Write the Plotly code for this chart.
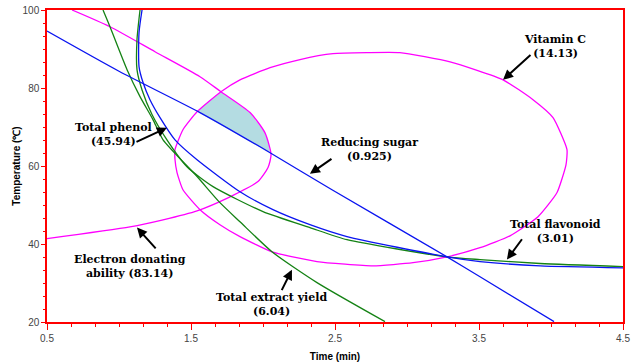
import plotly.graph_objects as go

# ---- data (Time in min, Temperature in degC) ----
reducing_sugar_x = [0.5, 1.0, 1.5625, 2.049, 2.479, 3.278, 3.507, 4.021]
reducing_sugar_y = [94.6, 84.3, 73.7, 63.4, 53.9, 36.7, 31.6, 20.1]

phenol_x = [1.160, 1.139, 1.139, 1.167, 1.215, 1.285, 1.389, 1.542, 1.840, 2.069, 2.326, 2.583, 3.278, 3.507, 3.924, 4.5]
phenol_y = [100.0, 94.2, 85.5, 81.4, 77.0, 72.4, 66.7, 61.6, 53.4, 48.8, 44.95, 41.9, 36.7, 35.5, 34.4, 33.9]

flavonoid_x = [1.146, 1.125, 1.125, 1.160, 1.229, 1.333, 1.472, 1.653, 2.0, 2.326, 2.583, 3.278, 3.507, 3.924, 4.5]
flavonoid_y = [100.0, 92.4, 84.7, 79.5, 73.2, 66.7, 59.8, 54.7, 48.3, 44.2, 41.1, 36.7, 36.0, 35.0, 34.2]

extract_x = [0.889, 0.9375, 1.056, 1.146, 1.236, 1.306, 1.542, 1.701, 1.840, 2.0625, 2.375, 2.847]
extract_y = [100.0, 95.7, 84.7, 77.8, 71.9, 66.7, 57.3, 50.6, 45.7, 38.0, 30.1, 20.1]

vitc_x = [1.389, 1.403, 1.444, 1.5625, 1.701, 1.840, 2.0625, 2.375, 2.764, 3.042, 3.278, 3.507, 3.715,
          3.910, 4.042, 4.104, 4.111, 4.014, 3.875, 3.667, 3.299, 2.951, 2.722, 2.486, 2.257, 2.049,
          1.840, 1.708, 1.542, 1.444, 1.389, 1.389]
vitc_y = [61.6, 58.3, 53.9, 48.8, 44.95, 41.9, 38.0, 35.5, 34.4, 35.2, 36.7, 39.05, 42.1,
          47.0, 53.2, 60.3, 64.2, 72.4, 77.0, 82.1, 86.7, 89.05, 89.05, 88.8, 87.3, 85.2,
          82.1, 79.05, 73.9, 69.3, 64.2, 61.6]

eda_x = [0.674, 0.9375, 1.25, 1.5625, 1.708, 1.910, 2.014, 2.056, 2.035, 1.965, 1.771, 1.542, 1.306, 1.076, 0.5]
eda_y = [100.0, 95.7, 89.3, 82.9, 79.05, 73.7, 68.5, 62.9, 59.6, 56.0, 52.1, 48.5, 46.2, 44.4, 41.4]

overlap_x = [1.708, 1.910, 2.014, 2.042, 2.049, 1.54, 1.708]
overlap_y = [79.05, 73.7, 68.5, 65.4, 63.4, 74.0, 79.05]

x_ticks = [0.5, 1.5, 2.5, 3.5, 4.5]
y_ticks = [20, 40, 60, 80, 100]

# annotations: label, text centre (x, y), arrow tail (x, y), arrow tip (x, y)
labels = ["Vitamin C<br>(14.13)", "Reducing sugar<br>(0.925)", "Total phenol<br>(45.94)",
          "Total flavonoid<br>(3.01)", "Electron donating<br>ability (83.14)", "Total extract yield<br>(6.04)"]
label_x = [4.028, 2.743, 0.965, 4.028, 1.076, 2.056]
label_y = [90.6, 64.2, 68.0, 43.2, 34.2, 24.4]
tail_x = [3.868, 2.486, 1.111, 3.806, 1.264, 2.125]
tail_y = [88.8, 62.1, 66.0, 41.6, 38.5, 27.8]
tip_x = [3.667, 2.326, 1.333, 3.694, 1.125, 2.201]
tip_y = [82.1, 58.0, 69.8, 36.0, 44.2, 33.4]

MAGENTA = "#FF00FF"
BLUE = "#0A14F0"
GREEN = "#148214"

fig = go.Figure()
fig.add_trace(go.Scatter(x=overlap_x, y=overlap_y, mode="lines", fill="toself",
                         fillcolor="#B4DCE2", line=dict(width=0), hoverinfo="skip"))
fig.add_trace(go.Scatter(x=vitc_x, y=vitc_y, mode="lines",
                         line=dict(color=MAGENTA, width=1.3, shape="spline", smoothing=0.5)))
fig.add_trace(go.Scatter(x=eda_x, y=eda_y, mode="lines",
                         line=dict(color=MAGENTA, width=1.3, shape="spline", smoothing=0.6)))
fig.add_trace(go.Scatter(x=extract_x, y=extract_y, mode="lines",
                         line=dict(color=GREEN, width=1.3, shape="spline", smoothing=0.6)))
fig.add_trace(go.Scatter(x=flavonoid_x, y=flavonoid_y, mode="lines",
                         line=dict(color=GREEN, width=1.3, shape="spline", smoothing=0.6)))
fig.add_trace(go.Scatter(x=phenol_x, y=phenol_y, mode="lines",
                         line=dict(color=BLUE, width=1.3, shape="spline", smoothing=0.6)))
fig.add_trace(go.Scatter(x=reducing_sugar_x, y=reducing_sugar_y, mode="lines",
                         line=dict(color=BLUE, width=1.3, shape="spline", smoothing=0.6)))

for i in range(len(labels)):
    fig.add_annotation(x=tip_x[i], y=tip_y[i], ax=tail_x[i], ay=tail_y[i], axref="x", ayref="y",
                       xref="x", yref="y", text="", showarrow=True, arrowhead=2, arrowsize=1,
                       arrowwidth=2, arrowcolor="black")
    fig.add_annotation(x=label_x[i], y=label_y[i], xref="x", yref="y", text="<b>" + labels[i] + "</b>",
                       showarrow=False, align="center",
                       font=dict(family="DejaVu Serif", size=11, color="black"))

axis_common = dict(showline=True, linecolor="#FF0000", linewidth=1.5, mirror=True, automargin=False,
                   showgrid=False, zeroline=False, ticks="outside", tickcolor="#FF0000",
                   tickfont=dict(family="Liberation Sans", size=10, color="#444444"))

fig.update_xaxes(range=[0.5, 4.5], tickvals=x_ticks, ticktext=[str(v) for v in x_ticks], ticklen=6,
                 minor=dict(dtick=1 / 6, tick0=0.5, ticklen=3, tickcolor="#FF0000", ticks="outside"),
                 title=dict(text="<b>Time (min)</b>", font=dict(family="Liberation Sans", size=10, color="black"),
                            standoff=10),
                 **axis_common)
fig.update_yaxes(range=[20, 100], tickvals=y_ticks, ticklen=4,
                 minor=dict(dtick=20 / 6, tick0=20, ticklen=2, tickcolor="#FF0000", ticks="outside"),
                 title=dict(text="<b>Temperature (℃)</b>", font=dict(family="Liberation Sans", size=10, color="black"),
                            standoff=0),
                 **axis_common)

fig.update_layout(width=639, height=363, margin=dict(l=47, r=16, t=10, b=41),
                  paper_bgcolor="white", plot_bgcolor="white", showlegend=False)

fig.write_html("out.html", config={"displayModeBar": False},
               post_script="document.body.style.margin='0px';document.body.style.overflow='hidden';")
